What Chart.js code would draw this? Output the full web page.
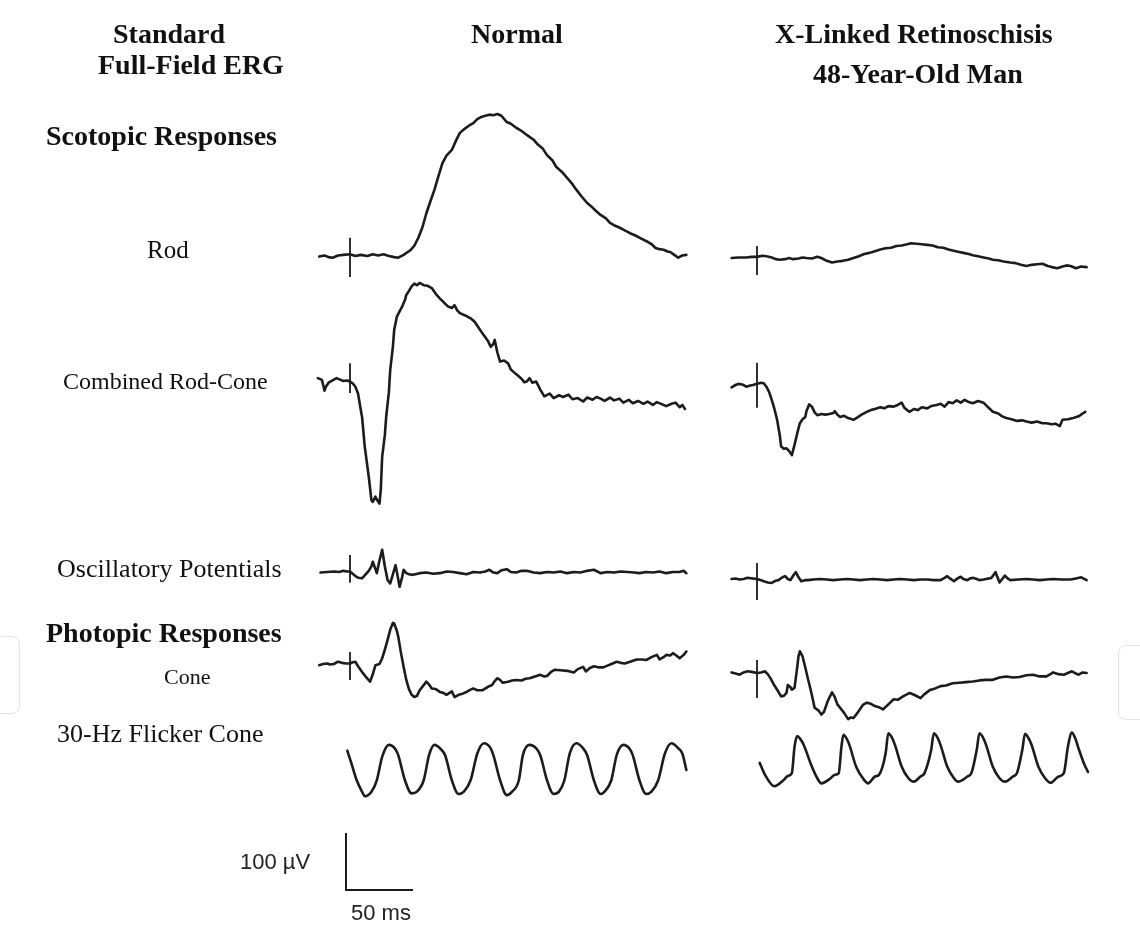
<!DOCTYPE html>
<html>
<head>
<meta charset="utf-8">
<title>Standard Full-Field ERG</title>
<script src="https://cdn.jsdelivr.net/npm/chart.js@4/dist/chart.umd.min.js"></script>
<style>
  html, body { margin: 0; padding: 0; background: #fff; }
  #wrap { position: relative; width: 1140px; height: 925px; overflow: hidden; }
  #erg { position: absolute; left: 0; top: 0; }
  .t { position: absolute; white-space: nowrap; line-height: 1; color: #111; }
  .b { font: bold 28px "Liberation Serif", "Times New Roman", serif; }
  .r { font: 24px "Liberation Serif", "Times New Roman", serif; }
  .s { font: 22px "Liberation Sans", Arial, sans-serif; color: #222; }
  .ghost { position: absolute; border: 1.5px solid #e4e4e4; border-radius: 8px; }
</style>
</head>
<body>
<div id="wrap">
  <div class="ghost" style="left:-24px;top:636px;width:42px;height:76px"></div>
  <div class="ghost" style="left:1118px;top:645px;width:44px;height:73px"></div>
  <canvas id="erg" width="1140" height="925"></canvas>
  <div class="t b" style="left:113px;top:18px">Standard</div>
  <div class="t b" style="left:98px;top:49px">Full-Field ERG</div>
  <div class="t b" style="left:471px;top:18px">Normal</div>
  <div class="t b" style="left:775px;top:18px">X-Linked Retinoschisis</div>
  <div class="t b" style="left:813px;top:58px">48-Year-Old Man</div>
  <div class="t b" style="left:46px;top:120px">Scotopic Responses</div>
  <div class="t r" style="left:147px;top:236px;font-size:25px">Rod</div>
  <div class="t r" style="left:63px;top:368px">Combined Rod-Cone</div>
  <div class="t r" style="left:57px;top:554px;font-size:26px">Oscillatory Potentials</div>
  <div class="t b" style="left:46px;top:617px">Photopic Responses</div>
  <div class="t r" style="left:164px;top:664px;font-size:22px">Cone</div>
  <div class="t r" style="left:57px;top:719px;font-size:26px">30-Hz Flicker Cone</div>
  <div class="t s" style="left:240px;top:849px">100 µV</div>
  <div class="t s" style="left:351px;top:900px">50 ms</div>
</div>
<script>
// traces: [ms after flash, µV]
const rodNormal = [[-23,-1],[-19,1],[-16,-2],[-13,-3],[-9,1],[-5,2],[0,3],[4,0],[8,2],[13,0],[17,3],[21,1],[25,3],[29,0],[33,-2],[36,-3],[40,2],[45,10],[48,18],[51,32],[54,50],[57,75],[60,96],[63,116],[66,140],[69,163],[72,176],[76,186],[79,202],[82,216],[86,224],[89,229],[92,233],[95,240],[98,244],[101,246],[104,248],[107,247],[110,249],[113,246],[117,235],[120,232],[124,225],[127,221],[131,214],[134,209],[137,204],[140,196],[144,188],[147,177],[151,168],[154,156],[158,148],[162,137],[166,126],[169,116],[173,104],[177,93],[181,85],[184,78],[187,72],[191,66],[194,58],[197,54],[201,50],[205,45],[209,40],[213,36],[217,31],[222,25],[225,21],[228,14],[231,12],[234,11],[237,8],[239,7],[242,2],[245,-3],[248,1],[251,2]];
const rodXlrs = [[-19,0],[-14,1],[-8,1],[-4,2],[0,2],[4,4],[7,3],[11,1],[14,-2],[17,-3],[21,-2],[24,0],[27,-2],[31,-1],[34,1],[37,0],[41,-1],[45,2],[48,0],[52,-5],[56,-8],[60,-6],[64,-5],[68,-3],[72,0],[76,3],[80,7],[84,9],[88,12],[92,15],[96,17],[100,18],[104,21],[108,22],[112,24],[115,26],[119,25],[123,24],[127,23],[131,22],[135,19],[139,18],[143,15],[146,13],[150,11],[154,9],[158,7],[161,5],[165,3],[169,1],[173,-1],[176,-3],[180,-4],[184,-6],[189,-8],[193,-9],[197,-12],[201,-14],[205,-12],[209,-11],[213,-10],[217,-14],[220,-16],[224,-18],[228,-15],[231,-13],[234,-14],[238,-18],[242,-15],[246,-16]];

const combinedNormal = [[-24,5],[-21,2],[-20,-7],[-19,-17],[-18,-10],[-16,-3],[-13,1],[-10,5],[-7,2],[-5,0],[-2,1],[0,-1],[2,-4],[4,-10],[6,-22],[8,-50],[9,-63],[11,-115],[14,-168],[16,-209],[17,-212],[19,-203],[20,-208],[22,-215],[23,-190],[24,-133],[26,-95],[27,-63],[29,-20],[30,19],[32,60],[33,90],[35,113],[37,122],[39,131],[41,142],[42,151],[44,158],[46,166],[48,171],[50,168],[52,172],[55,168],[58,167],[61,163],[64,153],[67,145],[70,138],[73,131],[76,128],[78,133],[80,124],[82,119],[86,115],[90,110],[93,104],[97,90],[100,80],[103,70],[105,60],[107,65],[108,72],[110,50],[112,34],[115,36],[118,31],[120,20],[122,16],[125,10],[128,4],[130,-2],[132,-1],[134,5],[136,-3],[139,-1],[142,-15],[145,-27],[149,-22],[152,-30],[156,-25],[159,-28],[163,-24],[166,-32],[170,-30],[174,-36],[177,-29],[181,-33],[184,-28],[187,-31],[190,-35],[194,-29],[197,-34],[201,-31],[204,-38],[208,-33],[211,-39],[215,-35],[219,-40],[222,-36],[226,-42],[229,-37],[233,-41],[236,-44],[240,-40],[243,-38],[246,-46],[248,-42],[250,-49]];
const combinedXlrs = [[-19,-4],[-16,0],[-14,2],[-11,1],[-8,-3],[-5,-1],[-3,0],[0,2],[3,4],[5,3],[7,-3],[9,-12],[11,-26],[13,-42],[15,-61],[17,-88],[18,-108],[20,-112],[22,-111],[24,-116],[26,-123],[28,-105],[30,-85],[32,-67],[34,-60],[36,-56],[37,-45],[39,-34],[41,-38],[43,-48],[45,-53],[48,-51],[51,-52],[54,-51],[57,-49],[58,-46],[60,-52],[62,-56],[65,-54],[68,-58],[72,-61],[75,-57],[78,-52],[82,-47],[85,-44],[88,-42],[92,-39],[95,-41],[98,-37],[102,-38],[105,-35],[108,-31],[110,-40],[112,-44],[114,-47],[117,-42],[120,-44],[123,-39],[127,-41],[130,-37],[134,-35],[137,-33],[140,-38],[143,-30],[146,-32],[149,-27],[152,-31],[155,-26],[158,-30],[161,-32],[165,-28],[169,-31],[172,-38],[176,-47],[180,-50],[183,-55],[186,-58],[190,-60],[194,-63],[198,-62],[201,-64],[205,-66],[209,-64],[213,-67],[216,-67],[220,-69],[223,-68],[226,-72],[228,-61],[232,-60],[236,-58],[240,-55],[243,-50],[245,-47]];

const opsNormal = [[-22,-1],[-17,0],[-12,1],[-8,0],[-5,2],[-2,1],[0,1],[2,-3],[4,-7],[6,-10],[9,-11],[11,-6],[14,2],[16,10],[17,18],[19,5],[20,-2],[22,20],[24,39],[26,10],[28,-14],[30,-20],[32,-4],[34,12],[35,0],[37,-26],[39,-8],[40,4],[42,-2],[44,-4],[47,-5],[52,-2],[57,-1],[62,-3],[67,-2],[72,1],[77,0],[82,-2],[87,-4],[92,0],[97,-1],[101,1],[104,4],[107,-1],[110,-2],[113,3],[117,5],[120,0],[124,-1],[128,2],[132,2],[137,-1],[142,-2],[147,0],[152,-1],[157,1],[162,-2],[167,0],[172,-1],[177,2],[182,4],[187,-2],[192,0],[197,-1],[202,1],[207,0],[212,-1],[216,-2],[221,0],[226,-1],[231,1],[236,-2],[241,0],[246,0],[249,2],[251,-2]];
const opsXlrs = [[-19,0],[-16,1],[-13,-1],[-10,0],[-7,2],[-3,1],[0,0],[3,-2],[5,-4],[8,-6],[11,-7],[14,-3],[16,-2],[19,3],[21,5],[23,0],[25,-2],[27,6],[29,12],[31,3],[33,-4],[36,-2],[38,-2],[42,-1],[47,0],[52,-1],[57,-2],[62,-1],[67,0],[72,-1],[77,-2],[82,-1],[87,0],[92,-1],[97,-2],[102,-1],[107,0],[112,-1],[117,-2],[122,-1],[127,-1],[132,-2],[137,-2],[140,2],[142,5],[144,1],[147,-4],[149,0],[152,4],[154,0],[157,-2],[159,1],[161,2],[164,0],[166,-2],[169,-1],[171,0],[175,2],[178,12],[181,-6],[183,0],[185,6],[187,1],[189,-2],[195,-1],[201,0],[206,-1],[211,-2],[216,-1],[221,0],[227,-1],[234,-1],[238,1],[242,3],[246,-2]];

const coneNormal = [[-23,-2],[-20,0],[-17,1],[-15,-1],[-12,0],[-9,4],[-6,2],[-3,1],[0,1],[2,3],[4,4],[6,-4],[9,-14],[12,-23],[15,-31],[17,-18],[19,-2],[22,0],[24,10],[26,25],[28,42],[30,60],[32,72],[33,71],[35,58],[36,48],[38,20],[40,-5],[42,-28],[44,-44],[46,-54],[48,-58],[50,-56],[52,-46],[55,-37],[57,-31],[59,-36],[61,-43],[64,-44],[67,-49],[70,-51],[72,-54],[74,-51],[76,-48],[78,-58],[81,-54],[84,-52],[87,-49],[90,-45],[92,-43],[95,-46],[99,-46],[103,-40],[106,-37],[108,-30],[110,-25],[112,-28],[114,-33],[118,-31],[121,-29],[124,-28],[128,-29],[131,-26],[134,-25],[138,-22],[142,-19],[145,-22],[147,-21],[150,-14],[153,-10],[157,-11],[162,-12],[167,-15],[170,-9],[174,-5],[176,-13],[179,-7],[182,-4],[186,-6],[189,-6],[193,-2],[196,1],[199,4],[202,2],[205,1],[209,4],[214,8],[218,8],[221,7],[225,12],[229,16],[231,8],[234,12],[236,16],[239,15],[241,19],[244,14],[246,10],[249,16],[251,22]];
const coneXlrs = [[-19,1],[-16,-1],[-13,-3],[-10,1],[-7,3],[-4,2],[0,0],[3,1],[6,3],[8,-2],[10,-9],[13,-22],[16,-33],[18,-41],[20,-40],[22,-35],[23,-21],[25,-25],[26,-29],[28,-26],[30,10],[31,30],[32,38],[34,29],[36,10],[38,-10],[40,-29],[42,-50],[43,-61],[46,-66],[48,-73],[50,-68],[53,-48],[56,-34],[58,-42],[60,-55],[62,-61],[65,-70],[68,-81],[70,-78],[72,-79],[75,-70],[79,-56],[82,-52],[85,-54],[88,-58],[91,-60],[94,-64],[98,-55],[102,-46],[105,-47],[109,-41],[114,-35],[118,-39],[122,-44],[125,-37],[129,-30],[133,-27],[137,-23],[141,-22],[146,-18],[151,-17],[156,-16],[161,-15],[166,-13],[171,-12],[176,-12],[181,-8],[186,-6],[191,-8],[196,-7],[201,-4],[206,-3],[211,-6],[216,-6],[219,-2],[221,1],[225,-2],[229,-3],[232,0],[235,3],[238,-1],[240,-3],[243,1],[246,0]];

const flickerNormal = [[-2,34],[1,12],[5,-18],[9,-38],[11,-46],[16,-38],[20,-18],[24,23],[29,44],[34,36],[36,26],[41,-18],[46,-41],[50,-38],[55,-18],[59,26],[63,44],[68,36],[71,26],[76,-18],[81,-42],[85,-38],[90,-18],[95,29],[100,47],[105,38],[107,26],[112,-18],[117,-44],[121,-38],[126,-18],[129,26],[134,44],[139,38],[142,26],[147,-18],[152,-42],[156,-38],[160,-18],[164,29],[169,47],[174,38],[177,26],[182,-18],[187,-42],[190,-38],[195,-18],[199,26],[204,44],[209,36],[211,26],[216,-18],[221,-42],[225,-38],[230,-18],[235,29],[240,47],[245,38],[248,29],[251,0]];
const flickerXlrs = [[2,-5],[6,-26],[13,-46],[20,-35],[23,-28],[26,-23],[28,23],[30,42],[32,38],[35,26],[40,-6],[45,-32],[48,-41],[55,-32],[58,-26],[61,-23],[63,23],[64.5,44],[67,37],[69,26],[74,-12],[79,-32],[83,-41],[88,-29],[91,-26],[96,12],[98,47],[100.5,40],[103,26],[108,-12],[113,-32],[117,-38],[122,-29],[125,-23],[130,18],[132,47],[134.5,40],[137,26],[142,-12],[147,-32],[150,-38],[157,-29],[160,-23],[164,18],[166,47],[168.5,40],[171,26],[176,-12],[181,-32],[185,-38],[191,-29],[194,-23],[198,18],[200,46],[202.5,39],[205,26],[210,-12],[215,-32],[219,-40],[225,-29],[229,-23],[232,23],[235,48],[237.5,38],[240,20],[244,-6],[247,-21]];

// flash marks at t = 0: [top µV, bottom µV], rows rod, combined, ops, cone
const flashNormal = [[32,-37],[31,-21],[30,-19],[21,-28]];
const flashXlrs = [[21,-30],[39,-40],[28,-37],[23,-44]];

// calibration bar: 100 µV up, 50 ms across
const scaleBar = [[0,100],[0,0],[50,0]];

// layout (pixels)
const W = 1140, H = 925;
const PX_MS = 1.34, PX_UV = 0.57;
const colFlash = { n: 350, x: 757, bar: 346 };
const rowBaseN = [256, 381, 572, 664, 770];
const rowBaseX = [258, 385, 579, 673, 760];
const barBase = 890;
const INK = '#1c1c1c';

function xAxis(px) { return { type: 'linear', display: false, min: -px / PX_MS, max: (W - px) / PX_MS }; }
function yAxis(py) { return { type: 'linear', display: false, min: -(H - py) / PX_UV, max: py / PX_UV }; }

const scales = { xn: xAxis(colFlash.n), xx: xAxis(colFlash.x), xb: xAxis(colFlash.bar), yb: yAxis(barBase) };
rowBaseN.forEach((py, i) => { scales['yn' + i] = yAxis(py); });
rowBaseX.forEach((py, i) => { scales['yx' + i] = yAxis(py); });

const pts = a => a.map(([x, y]) => ({ x, y }));
function trace(data, xId, yId, smooth) {
  return {
    data: pts(data), xAxisID: xId, yAxisID: yId,
    borderColor: INK, borderWidth: 2.6, pointRadius: 0, fill: false,
    tension: smooth ? 0.4 : 0, cubicInterpolationMode: smooth ? 'monotone' : 'default',
    borderJoinStyle: 'round', borderCapStyle: 'round'
  };
}
function flash(m, xId, yId) {
  return { data: [{ x: 0, y: m[0] }, { x: 0, y: m[1] }], xAxisID: xId, yAxisID: yId,
    borderColor: INK, borderWidth: 1.8, pointRadius: 0, fill: false };
}

const normalRows = [rodNormal, combinedNormal, opsNormal, coneNormal, flickerNormal];
const xlrsRows = [rodXlrs, combinedXlrs, opsXlrs, coneXlrs, flickerXlrs];

const datasets = [];
normalRows.forEach((d, i) => datasets.push(trace(d, 'xn', 'yn' + i, i === 4)));
xlrsRows.forEach((d, i) => datasets.push(trace(d, 'xx', 'yx' + i, i === 4)));
flashNormal.forEach((m, i) => datasets.push(flash(m, 'xn', 'yn' + i)));
flashXlrs.forEach((m, i) => datasets.push(flash(m, 'xx', 'yx' + i)));
datasets.push({ data: pts(scaleBar), xAxisID: 'xb', yAxisID: 'yb', borderColor: INK,
  borderWidth: 2, pointRadius: 0, fill: false, borderJoinStyle: 'miter' });

new Chart(document.getElementById('erg'), {
  type: 'line',
  data: { datasets },
  options: {
    responsive: false,
    animation: false,
    layout: { padding: 0 },
    plugins: { legend: { display: false }, tooltip: { enabled: false } },
    scales
  }
});
</script>
</body>
</html>
